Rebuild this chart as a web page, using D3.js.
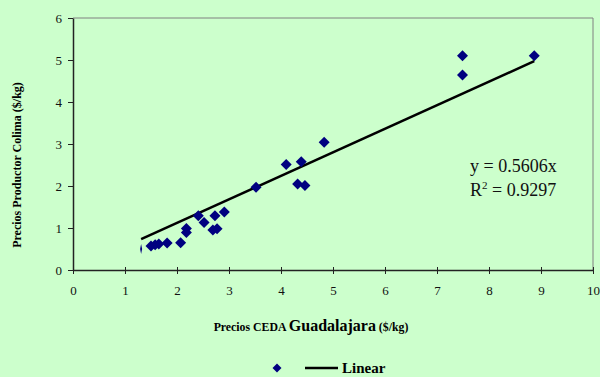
<!DOCTYPE html>
<html>
<head>
<meta charset="utf-8">
<script src="https://cdn.jsdelivr.net/npm/d3@7"></script>
<style>
  body { margin: 0; background: #ccffcc; }
  svg { display: block; font-family: "Liberation Serif", "Times New Roman", serif; }
</style>
</head>
<body>
<div id="chart"></div>
<script>
// CEDA Guadalajara price vs Colima producer price ($/kg)
const cedaPrices = [1.31, 1.5, 1.58, 1.65, 1.81, 2.07, 2.18, 2.18, 2.41, 2.52, 2.73, 2.69, 2.77, 2.91,
  3.52, 4.1, 4.39, 4.32, 4.46, 4.83, 7.49, 7.49, 8.87];
const colimaPrices = [0.5, 0.57, 0.6, 0.62, 0.64, 0.65, 0.99, 0.89, 1.29, 1.13, 1.29, 0.95, 0.98, 1.38,
  1.97, 2.51, 2.58, 2.05, 2.01, 3.04, 5.1, 4.64, 5.1];
const slope = 0.5606;
const rSquared = "0.9297";
const xTicks = [0, 1, 2, 3, 4, 5, 6, 7, 8, 9, 10];
const yTicks = [0, 1, 2, 3, 4, 5, 6];

const width = 600;
const height = 377;
const margin = { top: 18, right: 7, bottom: 107, left: 73 };

const svg = d3.select('#chart').append('svg')
  .attr('width', width)
  .attr('height', height);

svg.append('rect')
  .attr('width', width)
  .attr('height', height)
  .attr('fill', '#ccffcc');

const x = d3.scaleLinear().domain([0, 10]).range([margin.left, width - margin.right]);
const y = d3.scaleLinear().domain([0, 6]).range([height - margin.bottom, margin.top]);

// frame: top and right in grey
svg.append('path')
  .attr('d', `M${x(0)},${y(6)}H${x(10)}V${y(0)}`)
  .attr('fill', 'none')
  .attr('stroke', '#808080')
  .attr('stroke-width', 1);

// axes
const xAxis = svg.append('g')
  .attr('transform', `translate(0,${y(0)})`)
  .call(d3.axisBottom(x).tickValues(xTicks).tickFormat(d3.format('d'))
    .tickSize(4).tickSizeOuter(0).tickPadding(12));
xAxis.selectAll('.tick line').attr('y1', -3);

const yAxis = svg.append('g')
  .attr('transform', `translate(${x(0)},0)`)
  .call(d3.axisLeft(y).tickValues(yTicks).tickFormat(d3.format('d'))
    .tickSize(5).tickSizeOuter(0).tickPadding(6));

[xAxis, yAxis].forEach(g => {
  g.attr('font-family', '"Liberation Serif", serif').attr('font-size', 13);
  g.select('.domain').attr('stroke', '#222').attr('stroke-width', 1.5);
  g.selectAll('.tick line').attr('stroke', '#222');
  g.selectAll('.tick text').attr('fill', '#111');
});

// trendline y = slope * x
const xExtent = d3.extent(cedaPrices);
const trend = xExtent.map(v => [v, slope * v]);
svg.append('path')
  .datum(trend)
  .attr('d', d3.line().x(d => x(d[0])).y(d => y(d[1])))
  .attr('stroke', '#000')
  .attr('stroke-width', 2.5)
  .attr('fill', 'none');

// points
const pts = cedaPrices.map((v, i) => ({ x: v, y: colimaPrices[i] }));
svg.append('g')
  .selectAll('path')
  .data(pts)
  .enter().append('path')
  .attr('d', (d, i) => i === 0
    ? 'M0,-5L1,0L0,5L-1,0Z'
    : 'M0,-5.5L5.5,0L0,5.5L-5.5,0Z')
  .attr('transform', d => `translate(${x(d.x)},${y(d.y)})`)
  .attr('fill', '#000080');

// equation
svg.append('text')
  .attr('x', 470).attr('y', 172)
  .style('font-size', '18px')
  .attr('fill', '#111')
  .text(`y = ${slope}x`);
const r2 = svg.append('text')
  .attr('x', 470).attr('y', 196)
  .style('font-size', '18px')
  .attr('fill', '#111');
r2.append('tspan').text('R');
r2.append('tspan').attr('dy', -7).style('font-size', '11px').text('2');
r2.append('tspan').attr('dy', 7).text(` = ${rSquared}`);

// axis titles
svg.append('text')
  .attr('transform', 'translate(21,165) rotate(-90)')
  .attr('text-anchor', 'middle')
  .style('font-size', '12px')
  .style('font-weight', 'bold')
  .text('Precios Productor Colima ($/kg)');

const xt = svg.append('text')
  .attr('x', 311).attr('y', 331)
  .attr('text-anchor', 'middle')
  .style('font-weight', 'bold')
  .style('font-size', '11.8px');
xt.append('tspan').text('Precios CEDA ');
xt.append('tspan').style('font-size', '16px').text('Guadalajara');
xt.append('tspan').text(' ($/kg)');

// legend
const legend = svg.append('g');
legend.append('path')
  .attr('d', 'M0,-4.5L4.5,0L0,4.5L-4.5,0Z')
  .attr('transform', 'translate(277,368)')
  .attr('fill', '#000080');
legend.append('line')
  .attr('x1', 305).attr('x2', 338)
  .attr('y1', 368).attr('y2', 368)
  .attr('stroke', '#000').attr('stroke-width', 2.5);
legend.append('text')
  .attr('x', 342).attr('y', 373)
  .style('font-size', '15px')
  .style('font-weight', 'bold')
  .text('Linear');
</script>
</body>
</html>
